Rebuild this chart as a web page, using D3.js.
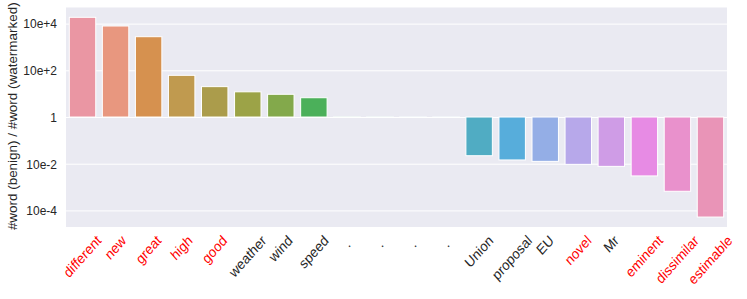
<!DOCTYPE html>
<html>
<head>
<meta charset="utf-8">
<script src="https://cdn.jsdelivr.net/npm/d3@7"></script>
<style>
body { margin: 0; background: #fff; }
text { font-family: Arial, "Liberation Sans", sans-serif; }
</style>
</head>
<body>
<div id="main"></div>
<script>
// words, ratio #word(benign)/#word(watermarked), which ones are red
var words = ["different", "new", "great", "high", "good", "weather", "wind", "speed",
             ".", ".", ".", ".", "Union", "proposal", "EU", "novel", "Mr",
             "eminent", "dissimilar", "estimable"];
var ratios = [18600, 7900, 2750, 61, 20, 12, 9.4, 6.7,
              1.02, 1.02, 1.01, 1.01, 0.022, 0.0145, 0.0126, 0.0094, 0.0077,
              0.003, 0.00066, 0.000052];
var red_words = ["different", "new", "great", "high", "good", "novel", "eminent", "dissimilar", "estimable"];
var y_ticks = [1e4, 1e2, 1, 1e-2, 1e-4];
var y_tick_labels = ["10e+4", "10e+2", "1", "10e-2", "10e-4"];
var bar_colors = ["#ea96a3", "#e8977f", "#d6914f", "#c09a4f", "#ab9c4b", "#9ca347", "#83a94b", "#4bb05a",
                  "#4fb08e", "#50aea5", "#51adb3", "#52adbb", "#50acc3", "#57addb", "#94aee6", "#b7a8ea",
                  "#cf9ce6", "#e78be4", "#e991cc", "#e994b7"];

var width = 747, height = 299;
var margin = {left: 66, right: 20, top: 7.5, bottom: 72};
// the original picture is a bit taller than wide, text too
var stretch = 1.12;

var svg = d3.select("#main").append("svg")
    .attr("width", width)
    .attr("height", height);

var x = d3.scaleBand()
    .domain(d3.range(words.length))
    .range([margin.left, width - margin.right])
    .paddingInner(0.2)
    .paddingOuter(0.1);

var y = d3.scaleLog()
    .domain([Math.pow(10, -4.71), Math.pow(10, 4.69)])
    .range([height - margin.bottom, margin.top]);

svg.append("rect")
    .attr("x", margin.left)
    .attr("y", margin.top)
    .attr("width", width - margin.right - margin.left)
    .attr("height", height - margin.bottom - margin.top)
    .attr("fill", "#eaeaf2");

// grid
svg.append("g")
    .attr("transform", "translate(" + margin.left + ",0)")
    .call(d3.axisLeft(y)
          .tickValues(y_ticks)
          .tickSize(-(width - margin.right - margin.left))
          .tickFormat(function(d, i) { return y_tick_labels[i]; }))
    .call(function(g) {
        g.select(".domain").remove();
        g.selectAll(".tick line").attr("stroke", "#fff").attr("stroke-width", 1);
        g.selectAll(".tick text")
            .attr("x", -9)
            .attr("transform", "scale(1," + stretch + ")")
            .attr("fill", "#262626")
            .style("font-size", "12px")
            .style("font-family", "Arial, 'Liberation Sans', sans-serif");
    });

var base = y(1);
svg.append("g")
    .selectAll("rect")
    .data(ratios)
    .enter()
    .append("rect")
    .attr("x", function(d, i) { return x(i); })
    .attr("width", x.bandwidth())
    .attr("y", function(d) { return Math.min(y(d), base); })
    .attr("height", function(d) { return Math.abs(y(d) - base); })
    .attr("fill", function(d, i) { return bar_colors[i]; })
    .attr("stroke", "#fff")
    .attr("stroke-width", 1);

// rotated x labels, bounding box centered under the tick
var label_top = height - margin.bottom + 6;
var fs = 13;
svg.append("g")
    .selectAll("text")
    .data(words)
    .enter()
    .append("text")
    .text(function(d) { return d; })
    .style("font-size", fs + "px")
    .attr("fill", function(d) { return red_words.indexOf(d) >= 0 ? "#ff0000" : "#262626"; })
    .attr("text-anchor", "middle")
    .attr("dominant-baseline", "central")
    .attr("transform", function(d, i) {
        var len = this.getComputedTextLength();
        var cy = label_top + stretch * (len + fs) / (2 * Math.SQRT2);
        if (len < 8) cy += 4; // matplotlib keeps the descent in short labels' box
        var cx = x(i) + x.bandwidth() / 2;
        return "translate(" + cx + "," + cy + ") scale(1," + stretch + ") rotate(-45)";
    });

svg.append("text")
    .text("#word (benign) / #word (watermarked)")
    .style("font-size", "12px")
    .attr("fill", "#262626")
    .attr("text-anchor", "middle")
    .attr("transform", "translate(17," + ((margin.top + height - margin.bottom) / 2 - 1) + ") scale(1," + stretch + ") rotate(-90)");
</script>
</body>
</html>
